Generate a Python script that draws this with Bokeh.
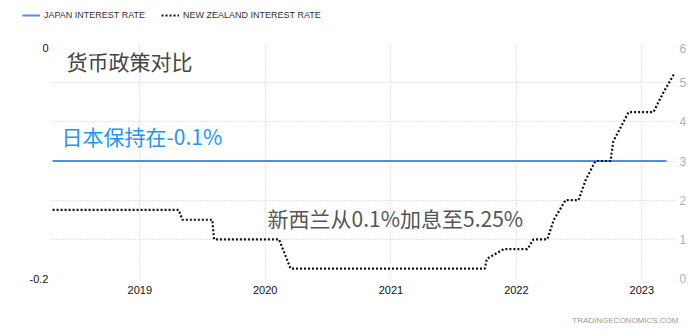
import pandas as pd
from bokeh.plotting import figure
from bokeh.layouts import column
from bokeh.models import (Range1d, LinearAxis, FixedTicker, Grid, Legend, LegendItem,
                          Label, DatetimeTickFormatter, NumeralTickFormatter)
from bokeh.embed import file_html
from bokeh.resources import INLINE

# ---- data ----
jp_dates = ["2018-04-22", "2023-03-14"]
jp_values = [-0.1, -0.1]

nz_dates = ["2018-04-22", "2019-04-24", "2019-05-05", "2019-07-31", "2019-08-05",
            "2020-02-10", "2020-03-15", "2021-10-01", "2021-10-07", "2021-11-25",
            "2022-02-02", "2022-02-20", "2022-04-01", "2022-04-20", "2022-05-24",
            "2022-07-01", "2022-07-21", "2022-08-19", "2022-10-02", "2022-10-10",
            "2022-11-24", "2023-02-04", "2023-03-05", "2023-04-07"]
nz_values = [1.75, 1.75, 1.5, 1.5, 1.0,
             1.0, 0.25, 0.25, 0.5, 0.75,
             0.75, 1.0, 1.0, 1.5, 2.0,
             2.0, 2.5, 3.0, 3.0, 3.5,
             4.25, 4.25, 4.75, 5.25]

year_ticks = ["2019-01-01", "2020-01-01", "2021-01-01", "2022-01-01", "2023-01-01"]
left_ticks = [-0.2, 0]
right_ticks = [0, 1, 2, 3, 4, 5, 6]

series_names = ["JAPAN INTEREST RATE", "NEW ZEALAND INTEREST RATE"]
title_text = "货币政策对比"
jp_note = "日本保持在-0.1%"
nz_note = "新西兰从0.1%加息至5.25%"
source_text = "TRADINGECONOMICS.COM"

# ---- styles ----
jp_color = "#4a8ff0"
nz_color = "#111111"
grid_color = "#c8c8c8"
cjk = "Noto Sans CJK SC"
W = 700


def bare(fig):
    fig.outline_line_color = None
    fig.background_fill_color = "white"
    fig.border_fill_color = "white"
    return fig


def clean_axis(ax, size, color, standoff):
    ax.axis_line_color = None
    ax.major_tick_line_color = None
    ax.minor_tick_line_color = None
    ax.major_tick_out = 0
    ax.major_tick_in = 0
    ax.minor_tick_out = 0
    ax.minor_tick_in = 0
    ax.major_label_text_font = "Liberation Sans"
    ax.major_label_text_font_size = size
    ax.major_label_text_color = color
    ax.major_label_standoff = standoff


# ---- header with legend ----
head = bare(figure(width=W, height=43, x_range=Range1d(0, 1), y_range=Range1d(0, 1),
                   x_axis_type=None, y_axis_type=None, output_backend="svg",
                   toolbar_location=None, min_border=0))
head.xgrid.visible = False
head.ygrid.visible = False
# legend-only renderers, kept outside the visible range
h_jp = head.line(x=[-2, -1], y=[-2, -2], line_color=jp_color, line_width=2)
h_nz = head.line(x=[-2, -1], y=[-2, -2], line_color=nz_color, line_width=2.2,
                 line_dash="2 2")
legend = Legend(items=[LegendItem(label=series_names[0], renderers=[h_jp]),
                       LegendItem(label=series_names[1], renderers=[h_nz])],
                orientation="horizontal", location=(22, 21), padding=0, margin=0,
                spacing=16, glyph_width=18, glyph_height=14, label_height=14,
                label_standoff=4, label_text_font="Liberation Sans",
                label_text_font_size="9px", label_text_color="#333333",
                background_fill_alpha=0, border_line_alpha=0)
head.add_layout(legend)

# ---- main chart ----
x_start = pd.Timestamp("2018-04-16")
x_end = pd.Timestamp("2023-04-15")

p = bare(figure(width=W, height=267, x_axis_type="datetime",
                x_range=Range1d(x_start, x_end), y_range=Range1d(-0.2, 0),
                output_backend="svg", toolbar_location=None,
                min_border_left=50, min_border_right=23, min_border_top=0,
                min_border_bottom=32))
p.extra_y_ranges = {"nz": Range1d(0, 6)}

xa = p.xaxis[0]
xa.ticker = FixedTicker(ticks=[pd.Timestamp(d).value / 1e6 for d in year_ticks])
xa.formatter = DatetimeTickFormatter(years="%Y", months="%Y", days="%Y", hours="%Y")
clean_axis(xa, "11px", "#111111", 7)

ya = p.yaxis[0]
ya.ticker = FixedTicker(ticks=left_ticks)
ya.formatter = NumeralTickFormatter(format="0.[0]")
clean_axis(ya, "11px", "#111111", 2)

ra = LinearAxis(y_range_name="nz", ticker=FixedTicker(ticks=right_ticks))
clean_axis(ra, "12px", "#b0b0b0", 2)
p.add_layout(ra, "right")

p.ygrid.visible = False
p.xgrid.grid_line_color = grid_color
p.xgrid.grid_line_dash = "1 2"
hgrid = Grid(dimension=1, ticker=FixedTicker(ticks=right_ticks), y_range_name="nz",
             grid_line_color=grid_color, grid_line_dash="1 2")
p.add_layout(hgrid)

jp_df = pd.DataFrame({"date": pd.to_datetime(jp_dates), "value": jp_values})
nz_df = pd.DataFrame({"date": pd.to_datetime(nz_dates), "value": nz_values})
p.line(jp_df["date"], jp_df["value"], line_color=jp_color, line_width=2)
p.line(nz_df["date"], nz_df["value"], y_range_name="nz", line_color=nz_color,
       line_width=2.2, line_dash="2 2")

p.add_layout(Label(x=16, y=218, x_units="screen", y_units="screen", text=title_text,
                   text_font=cjk, text_font_size="21px", text_color="#444444",
                   text_baseline="middle"))
p.add_layout(Label(x=11, y=143, x_units="screen", y_units="screen", text=jp_note,
                   text_font=cjk, text_font_size="21px", text_color="#2196f3",
                   text_baseline="middle"))
p.add_layout(Label(x=217, y=61, x_units="screen", y_units="screen", text=nz_note,
                   text_font=cjk, text_font_size="21px", text_color="#555555",
                   text_baseline="middle"))

# ---- footer with source ----
foot = bare(figure(width=W, height=23, x_range=Range1d(0, 1), y_range=Range1d(0, 1),
                   x_axis_type=None, y_axis_type=None, output_backend="svg",
                   toolbar_location=None, min_border=0))
foot.xgrid.visible = False
foot.ygrid.visible = False
foot.add_layout(Label(x=678, y=13, x_units="screen", y_units="screen", text=source_text,
                      text_font="Liberation Sans", text_font_size="8px",
                      text_color="#9a9a9a", text_align="right", text_baseline="middle"))

layout = column(column(head), p, column(foot), spacing=0)
open("out.html", "w").write(file_html(layout, INLINE))
